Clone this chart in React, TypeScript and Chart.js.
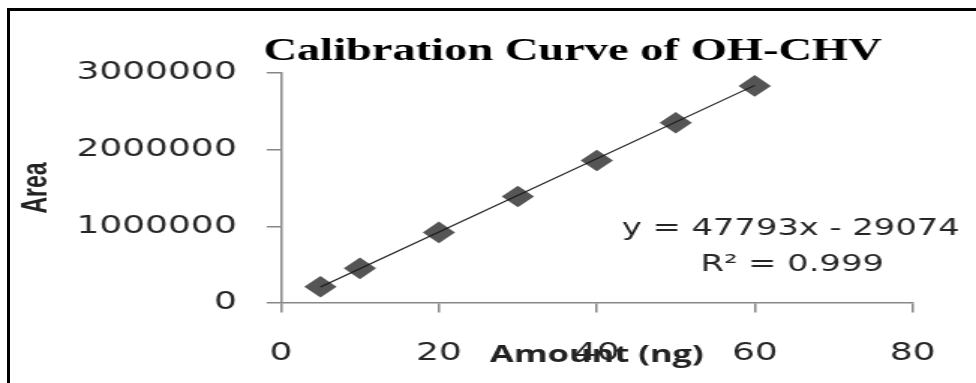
import React, { useEffect, useRef } from "react";
import { Chart, registerables } from "chart.js";

Chart.register(...registerables);

// ---- data ----
const amounts = [5, 10, 20, 30, 40, 50, 60];
const areas = [212000, 452000, 921000, 1390000, 1858000, 2352000, 2832000];
const slope = 47793;
const intercept = -29074;
const rSquared = "0.999";
const xTicks = [0, 20, 40, 60, 80];
const yTicks = [0, 1000000, 2000000, 3000000];
const chartTitle = "Calibration Curve of OH-CHV";
const xTitle = "Amount (ng)";
const yTitle = "Area";
const equationText = `y = ${slope}x - ${Math.abs(intercept)}`;
const r2Text = `R\u00B2 = ${rSquared}`;

// ---- layout (inner canvas is drawn narrower and stretched horizontally) ----
const PAGE_W = 976;
const PAGE_H = 383;
const INNER_W = 651;
const SX = PAGE_W / INNER_W;

const AXIS_COLOR = "#878787";
const TEXT_COLOR = "#262626";

const textPlugin = {
  id: "textPlugin",
  afterDraw(chart: any) {
    const { ctx, chartArea } = chart;
    ctx.save();
    ctx.fillStyle = "#000";
    ctx.font = 'bold 31px "Liberation Serif"';
    ctx.textAlign = "center";
    ctx.textBaseline = "alphabetic";
    ctx.fillText(chartTitle, 381.9, 60);

    ctx.fillStyle = TEXT_COLOR;
    ctx.font = '22.5px "DejaVu Sans"';
    ctx.textBaseline = "middle";
    const ex = chartArea.left + (chartArea.right - chartArea.left) * 0.807;
    ctx.fillText(equationText, ex, 229.5);
    ctx.fillText(r2Text, ex + 1, 265.5);
    ctx.restore();
  },
};

export default function App() {
  const ref = useRef<HTMLCanvasElement | null>(null);

  useEffect(() => {
    if (!ref.current) return;
    const trend = [amounts[0], amounts[amounts.length - 1]].map((x) => ({
      x,
      y: slope * x + intercept,
    }));
    const chart = new Chart(ref.current, {
      type: "scatter",
      data: {
        datasets: [
          {
            type: "line",
            label: "Linear trend",
            data: trend,
            borderColor: "#1a1a1a",
            borderWidth: 1.2,
            pointRadius: 0,
            fill: false,
          } as any,
          {
            label: "OH-CHV",
            data: amounts.map((x, i) => ({ x, y: areas[i] })),
            pointStyle: "rectRot",
            pointRadius: 10.8,
            backgroundColor: "#555555",
            borderColor: "#555555",
            borderWidth: 0,
          },
        ],
      },
      options: {
        animation: false,
        responsive: true,
        maintainAspectRatio: false,
        devicePixelRatio: 1,
        layout: { padding: { top: 73, right: 26.7, bottom: 0, left: 0 } },
        plugins: {
          legend: { display: false },
          tooltip: { enabled: false },
          title: { display: false },
        },
        scales: {
          x: {
            type: "linear",
            min: 0,
            max: 80,
            afterBuildTicks: (s: any) => {
              s.ticks = xTicks.map((v) => ({ value: v }));
            },
            afterFit: (s: any) => {
              s.height = 80;
            },
            ticks: {
              callback: (v: any) => String(v),
              font: { family: '"DejaVu Sans"', size: 24 },
              color: TEXT_COLOR,
              padding: 27,
              maxRotation: 0,
            },
            grid: {
              display: true,
              drawOnChartArea: false,
              drawTicks: true,
              tickLength: 9.5,
              color: AXIS_COLOR,
              lineWidth: 1.5,
            },
            border: { display: true, color: AXIS_COLOR, width: 1.5 },
            title: {
              display: true,
              text: xTitle,
              font: { family: '"Open Sans"', size: 23, weight: "bold" },
              color: "#222",
              padding: { top: 0, bottom: 14 },
            },
          },
          y: {
            type: "linear",
            min: 0,
            max: 3000000,
            afterBuildTicks: (s: any) => {
              s.ticks = yTicks.map((v) => ({ value: v }));
            },
            afterFit: (s: any) => {
              s.width = 187.4;
            },
            ticks: {
              callback: (v: any) => String(v),
              font: { family: '"DejaVu Sans"', size: 24 },
              color: TEXT_COLOR,
              padding: 20,
            },
            grid: {
              display: true,
              drawOnChartArea: false,
              drawTicks: true,
              tickLength: 9.5,
              color: AXIS_COLOR,
              lineWidth: 1.5,
            },
            border: { display: true, color: AXIS_COLOR, width: 1.5 },
            title: {
              display: true,
              text: yTitle,
              font: { family: '"Liberation Sans"', size: 23, weight: "bold" },
              color: "#222",
              padding: { top: 11, bottom: 0 },
            },
          },
        },
      },
      plugins: [textPlugin],
    });
    return () => chart.destroy();
  }, []);

  return (
    <div
      style={{
        position: "fixed",
        left: 0,
        top: 0,
        width: PAGE_W,
        height: PAGE_H,
        overflow: "hidden",
        background: "#fff",
      }}
    >
      <div
        style={{
          position: "absolute",
          left: 0,
          top: 0,
          width: INNER_W,
          height: PAGE_H,
          transform: `scaleX(${SX})`,
          transformOrigin: "0 0",
        }}
      >
        <canvas ref={ref} />
      </div>
      <div
        style={{
          position: "absolute",
          left: 7,
          top: 8,
          width: PAGE_W - 7,
          height: 3,
          background: "#000",
        }}
      />
      <div
        style={{
          position: "absolute",
          left: 7,
          top: 8,
          width: 3,
          height: PAGE_H - 8,
          background: "#000",
        }}
      />
    </div>
  );
}
